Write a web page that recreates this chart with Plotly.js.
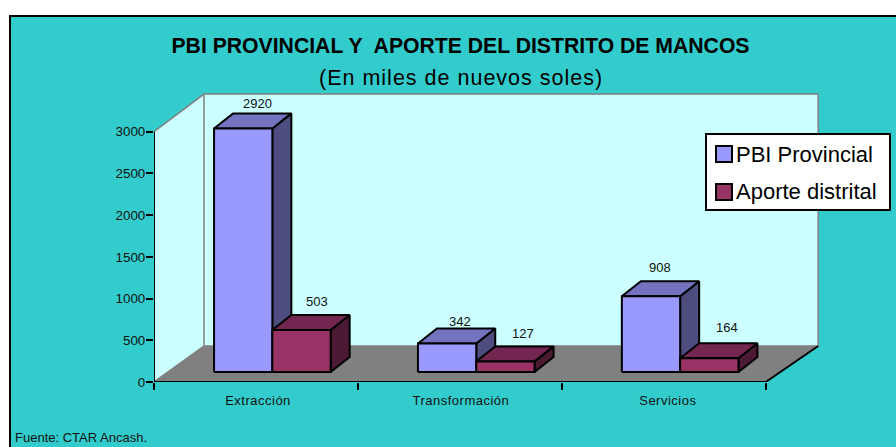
<!DOCTYPE html>
<html>
<head>
<meta charset="utf-8">
<script src="https://cdn.plot.ly/plotly-3.0.1.min.js"></script>
<style>
html,body{margin:0;padding:0;background:#fff}
#chart{width:896px;height:447px}
g.xtick text{letter-spacing:.5px}
g.annotation[data-index="6"] text{letter-spacing:1px}
</style>
</head>
<body>
<div id="chart"></div>
<script>
// ---- data ----
var categories = ['Extracción', 'Transformación', 'Servicios'];
var pbiProvincial = [2920, 342, 908];
var aporteDistrital = [503, 127, 164];
var yTicks = [0, 500, 1000, 1500, 2000, 2500, 3000];
var xLabelPos = [0.01, 1.005, 2.02];
var xBoundaries = [-0.5, 0.5, 1.5, 2.5];

// ---- 3D projection settings, in axis units ----
var W = 896, H = 447;
var plotL = 154, plotR = 835, plotT = 90, plotB = 381.7;
var pxPerCat = 203.9, pxPerVal = 250 / 3000;
var xMin = -0.5, xMax = xMin + (plotR - plotL) / pxPerCat;
var yMin = 0, yMax = (plotB - plotT) / pxPerVal;
var wallDXL = 50 / pxPerCat, wallDXR = 52.5 / pxPerCat, wallDY = 36 / pxPerVal; // depth of the box
var barDX0 = 16.4 / pxPerCat, barDY0 = 10 / pxPerVal; // where a bar's front face sits
var barDX = 19 / pxPerCat, barDY = 15 / pxPerVal;     // depth of a bar
var barW = 58.3 / pxPerCat;
var yTop = 3000, wallTop = 3020;

function poly(pts) { return {x: pts.map(function(p){return p[0];}), y: pts.map(function(p){return p[1];})}; }
function area(pts, color, name) {
  var p = poly(pts.concat([pts[0]]));
  return {type:'scatter', mode:'none', x:p.x, y:p.y, fill:'toself', fillcolor:color, name:name,
          hoverinfo:'skip', showlegend:false, cliponaxis:false};
}
function edge(pts, color, width, name) {
  var p = poly(pts);
  return {type:'scatter', mode:'lines', x:p.x, y:p.y, line:{color:color, width:width}, name:name,
          hoverinfo:'skip', showlegend:false, cliponaxis:false};
}
function faces(values, seriesIdx, name, colFront, colTop, colSide) {
  var front = {x:[], y:[]}, top = {x:[], y:[]}, side = {x:[], y:[]};
  values.forEach(function(v, i) {
    var x0 = i + barDX0 + (seriesIdx - 1) * barW, x1 = x0 + barW;
    var b = barDY0, t = v + barDY0, dx = barDX, dy = barDY;
    [[front, [[x0,b],[x1,b],[x1,t],[x0,t],[x0,b]]],
     [top,   [[x0,t],[x1,t],[x1+dx,t+dy],[x0+dx,t+dy],[x0,t]]],
     [side,  [[x1,b],[x1+dx,b+dy],[x1+dx,t+dy],[x1,t],[x1,b]]]].forEach(function(f) {
      f[1].forEach(function(p){ f[0].x.push(p[0]); f[0].y.push(p[1]); });
      f[0].x.push(null); f[0].y.push(null);
    });
  });
  function tr(d, c, suffix) {
    return {type:'scatter', mode:'lines', x:d.x, y:d.y, fill:'toself', fillcolor:c, name:name + suffix,
            line:{color:'#000', width:2}, hoverinfo:'skip', showlegend:false, cliponaxis:false};
  }
  return [tr(side, colSide, ' lateral'), tr(top, colTop, ' superior'), tr(front, colFront, '')];
}

var xL = xMin, xR = categories.length - 0.5;
var bl = [xL+wallDXL, wallDY], br = [xR+wallDXR, wallDY];
var tl = [xL+wallDXL, wallDY+wallTop], tr_ = [xR+wallDXR, wallDY+wallTop];
var traces = [
  area([bl, br, tr_, tl], '#CCFFFF', 'pared'),
  area([[xL,0], bl, tl, [xL,yTop]], '#CCFFFF', 'pared lateral'),
  area([[xL,0],[xR,0], br, bl], '#808080', 'piso'),
  edge([[xL,yTop], tl, tr_, br, bl, [xL,0]], '#808080', 1.5, 'borde'),
  edge([bl, tl], '#808080', 1.5, 'borde'),
  edge([[xL,yTop],[xL,0],[xR,0], br], '#000', 2, 'ejes')
].concat(
  faces(pbiProvincial, 0, 'PBI Provincial', '#9999FF', '#7373BF', '#4D4D80'),
  faces(aporteDistrital, 1, 'Aporte distrital', '#993366', '#732650', '#4D1A33')
);

// ---- small pixel nudges for value labels ----
var labelNudgeX = [[43, 42, 38], [45, 47, 47]];
var labelNudgeY = [[25, 22, 29], [29, 28, 31]];
var annotations = [];
[pbiProvincial, aporteDistrital].forEach(function(vals, s) {
  vals.forEach(function(v, i) {
    annotations.push({xref:'x', yref:'y', x: i + barDX0 + (s - 1) * barW, y: v + barDY0, text: String(v),
      showarrow:false, xanchor:'center', yanchor:'middle', xshift: labelNudgeX[s][i], yshift: labelNudgeY[s][i],
      font:{family:'Liberation Sans', size:13, color:'#111'}});
  });
});
function fx(p) { return (p - plotL) / (plotR - plotL); }
function fy(p) { return (plotB - p) / (plotB - plotT); }

annotations.push({xref:'paper', yref:'paper', x:fx(460.5), y:fy(78), text:'(En miles de nuevos soles)', showarrow:false,
  xanchor:'center', yanchor:'middle', font:{family:'Liberation Sans', size:21.5, color:'#000'}});
annotations.push({xref:'paper', yref:'paper', x:fx(12.5), y:fy(437), text:'Fuente: CTAR Ancash.', showarrow:false,
  xanchor:'left', yanchor:'middle', font:{family:'Liberation Sans', size:13, color:'#111'}});
annotations.push({xref:'paper', yref:'paper', x:fx(734), y:fy(154.5), text:'PBI Provincial', showarrow:false,
  xanchor:'left', yanchor:'middle', font:{family:'Liberation Sans', size:22, color:'#000'}});
annotations.push({xref:'paper', yref:'paper', x:fx(734), y:fy(191), text:'Aporte distrital', showarrow:false,
  xanchor:'left', yanchor:'middle', font:{family:'Liberation Sans', size:22, color:'#000'}});

function paperRect(x0, y0, x1, y1, fill, line, lw, layer) {
  return {type:'rect', xref:'paper', yref:'paper', x0:fx(x0), x1:fx(x1), y0:fy(y0), y1:fy(y1),
          fillcolor:fill, line:{color:line, width:lw}, layer:layer};
}
var shapes = [
  paperRect(10, 16, 905, 460, '#33CCCC', '#000', 2, 'below'),
  paperRect(706, 134, 890, 210, '#FFFFFF', '#000', 2, 'above'),
  paperRect(716, 146, 732, 162, '#9999FF', '#000', 2, 'above'),
  paperRect(716, 184, 732, 200, '#993366', '#000', 2, 'above')
];

var layout = {
  width:W, height:H, autosize:false,
  paper_bgcolor:'#FFFFFF', plot_bgcolor:'rgba(0,0,0,0)', showlegend:false,
  margin:{l:plotL, r:W-plotR, t:plotT, b:H-plotB, pad:0},
  title:{text:'PBI PROVINCIAL Y\u00A0 APORTE DEL DISTRITO DE MANCOS', x:fx(460.5), xanchor:'center', xref:'paper',
         y:1-46/H, yanchor:'middle', font:{family:'Liberation Sans', size:21.2, weight:700, color:'#000'}},
  xaxis:{range:[xMin, xMax], tickvals:xLabelPos, ticktext:categories, ticks:'', tickangle:0, showgrid:false, zeroline:false, showline:false,
         ticklabelstandoff:9, tickfont:{family:'Liberation Sans', size:13, color:'#111'},
         minor:{tickvals:xBoundaries, ticks:'outside', ticklen:7, tickwidth:2, tickcolor:'#000', showgrid:false}},
  yaxis:{range:[yMin, yMax], tickvals:yTicks, ticks:'outside', ticklen:7, tickwidth:2, tickcolor:'#000',
         ticklabelstandoff:-2, showgrid:false, zeroline:false, showline:false, tickfont:{family:'Liberation Sans', size:13.4, color:'#111'}},
  annotations:annotations, shapes:shapes
};
Plotly.newPlot('chart', traces, layout, {displayModeBar:false, staticPlot:true});
</script>
</body>
</html>
